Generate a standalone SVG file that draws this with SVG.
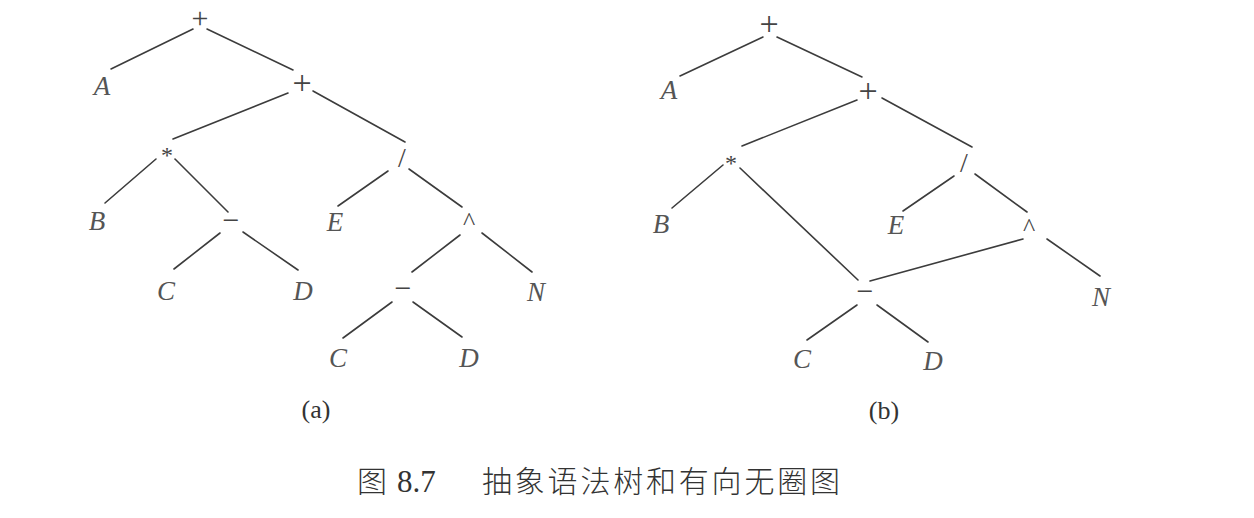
<svg xmlns="http://www.w3.org/2000/svg" width="1254" height="518" viewBox="0 0 1254 518">
<style>
.bg{fill:#ffffff}
.e line{stroke:#3c3c3c;stroke-width:1.6;stroke-linecap:round}
.v{font-family:"Liberation Serif","Times New Roman",serif;font-style:italic;font-size:27px;fill:#555;text-anchor:middle}
.op{font-family:"Liberation Serif","Times New Roman",serif;fill:#444;text-anchor:middle}
.plus{font-size:34px}
.plus0{font-size:30px}
.star{font-size:24px}
.minus{font-size:30px}
.slash{font-size:28px}
.hat{font-size:26px}
.sub{font-family:"Liberation Serif","Times New Roman",serif;font-size:26px;fill:#333;text-anchor:middle}
.cap{font-family:"Noto Sans CJK SC","Noto Sans CJK JP",sans-serif;font-size:30px;font-weight:300;fill:#333}
.capn{font-family:"Liberation Serif","Times New Roman",serif;font-size:31px;fill:#333}
</style>
<rect class="bg" x="0" y="0" width="1254" height="518"/>

<g id="connectors" class="e">
  <!-- tree a -->
  <line x1="193" y1="29" x2="111" y2="69"/>
  <line x1="207" y1="29" x2="293" y2="70"/>
  <line x1="288" y1="93" x2="173" y2="139"/>
  <line x1="313" y1="91" x2="405" y2="142"/>
  <line x1="156" y1="159" x2="105" y2="203"/>
  <line x1="175" y1="159" x2="228" y2="212"/>
  <line x1="220" y1="233" x2="174" y2="269"/>
  <line x1="243" y1="232" x2="298" y2="270"/>
  <line x1="388" y1="171" x2="338" y2="206"/>
  <line x1="409" y1="169" x2="462" y2="207"/>
  <line x1="460" y1="235" x2="412" y2="272"/>
  <line x1="482" y1="233" x2="532" y2="272"/>
  <line x1="392" y1="302" x2="343" y2="338"/>
  <line x1="413" y1="302" x2="462" y2="337"/>
  <!-- tree b -->
  <line x1="763" y1="37" x2="680" y2="76"/>
  <line x1="777" y1="37" x2="862" y2="77"/>
  <line x1="857" y1="100" x2="742" y2="146"/>
  <line x1="882" y1="98" x2="972" y2="147"/>
  <line x1="723" y1="165" x2="672" y2="208"/>
  <line x1="740" y1="168" x2="858" y2="280"/>
  <line x1="954" y1="176" x2="903" y2="211"/>
  <line x1="975" y1="174" x2="1027" y2="212"/>
  <line x1="1023" y1="239" x2="870" y2="281"/>
  <line x1="1047" y1="239" x2="1100" y2="276"/>
  <line x1="857" y1="305" x2="807" y2="340"/>
  <line x1="877" y1="305" x2="928" y2="342"/>
</g>

<!-- tree (a) nodes -->
<g id="a-root"><text class="op plus0" x="200" y="28">+</text></g>
<g id="a-A"><text class="v" x="102" y="95">A</text></g>
<g id="a-plus2"><text class="op plus" x="302" y="94">+</text></g>
<g id="a-star"><text class="op star" x="167" y="163">*</text></g>
<g id="a-B"><text class="v" x="97" y="230">B</text></g>
<g id="a-minus1"><text class="op minus" x="231" y="229.5">−</text></g>
<g id="a-C1"><text class="v" x="166" y="300">C</text></g>
<g id="a-D1"><text class="v" x="303" y="300">D</text></g>
<g id="a-slash"><text class="op slash" x="402" y="167">/</text></g>
<g id="a-E"><text class="v" x="335" y="231">E</text></g>
<g id="a-hat"><text class="op hat" x="469" y="230">^</text></g>
<g id="a-minus2"><text class="op minus" x="403" y="297.5">−</text></g>
<g id="a-N"><text class="v" x="536" y="301">N</text></g>
<g id="a-C2"><text class="v" x="338" y="367">C</text></g>
<g id="a-D2"><text class="v" x="469" y="367">D</text></g>
<g id="a-label"><text class="sub" x="316" y="418">(a)</text></g>

<!-- tree (b) nodes -->
<g id="b-root"><text class="op plus" x="769" y="35">+</text></g>
<g id="b-A"><text class="v" x="669" y="99">A</text></g>
<g id="b-plus2"><text class="op plus" x="868" y="102">+</text></g>
<g id="b-star"><text class="op star" x="731" y="171">*</text></g>
<g id="b-B"><text class="v" x="661" y="233">B</text></g>
<g id="b-slash"><text class="op slash" x="964" y="172">/</text></g>
<g id="b-E"><text class="v" x="896" y="234">E</text></g>
<g id="b-hat"><text class="op hat" x="1029" y="236">^</text></g>
<g id="b-minus"><text class="op minus" x="865" y="300.5">−</text></g>
<g id="b-N"><text class="v" x="1101" y="306">N</text></g>
<g id="b-C"><text class="v" x="802" y="368">C</text></g>
<g id="b-D"><text class="v" x="933" y="370">D</text></g>
<g id="b-label"><text class="sub" x="884" y="419">(b)</text></g>

<!-- caption -->
<g id="caption">
  <text class="cap" x="357" y="492">图</text>
  <text class="capn" x="397" y="492">8.7</text>
  <text class="cap" x="482" y="492" letter-spacing="2.8">抽象语法树和有向无圈图</text>
</g>
</svg>
